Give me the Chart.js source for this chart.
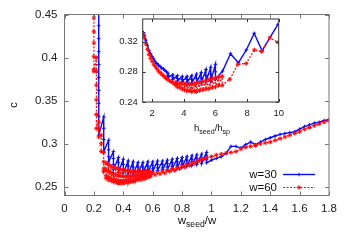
<!DOCTYPE html>
<html><head><meta charset="utf-8">
<script src="https://cdn.jsdelivr.net/npm/chart.js@4.4.1/dist/chart.umd.min.js"></script>
<style>
html,body{margin:0;padding:0;background:#fff;}
#wrap{position:relative;width:350px;height:245px;overflow:hidden;}
canvas{position:absolute;}
</style>
</head><body>
<div id="wrap">
<canvas id="main" width="350" height="245" style="left:0;top:0;width:350px;height:245px"></canvas>
<canvas id="inset" width="190" height="140" style="left:100px;top:0;width:190px;height:140px"></canvas>
</div>
<script>
// ---------- tick labels ----------
const mainXTicks = [0, 0.2, 0.4, 0.6, 0.8, 1, 1.2, 1.4, 1.6, 1.8];
const mainXLabels = ['0','0.2','0.4','0.6','0.8','1','1.2','1.4','1.6','1.8'];
const mainYTicks = [0.25, 0.3, 0.35, 0.4, 0.45];
const mainYLabels = ['0.25','0.3','0.35','0.4','0.45'];
const insetXTicks = [2, 4, 6, 8, 10];
const insetXLabels = ['2','4','6','8','10'];
const insetYTicks = [0.24, 0.28, 0.32];
const insetYLabels = ['0.24','0.28','0.32'];
const seriesNames = ['w=30', 'w=60'];

// ---------- main plot: c vs wseed/w ----------
const w30X = [
0.233,0.233,0.233,0.233,0.233,0.233,0.233,0.233,0.233,0.233,0.233,0.233,
0.267,0.267,0.267,0.267, 0.300,0.300,0.300,0.300, 0.333,0.333,0.333,0.333,
0.367,0.367,0.367,0.367, 0.400,0.400,0.400,0.400, 0.433,0.433,0.433,0.433,
0.467,0.467,0.467,0.467, 0.500,0.500,0.500,0.500, 0.533,0.533,0.533,0.533,
0.567,0.567,0.567,0.567, 0.600,0.600,0.600,0.600, 0.633,0.633,0.633,0.633,
0.667,0.667,0.667,0.667, 0.700,0.700,0.700,0.700, 0.733,0.733,0.733,0.733,
0.767,0.767,0.767,0.767, 0.800,0.800,0.800,0.800, 0.833,0.833,0.833,0.833,
0.867,0.867,0.867,0.867, 0.900,0.900,0.900,0.900, 0.933,0.933,0.933,0.933,
0.967,0.967,0.967,0.967,
1.000,1.033,1.067,1.100,1.133,1.167,1.200,1.233,1.267,1.300,1.333,1.367,1.400,
1.433,1.467,1.500,1.533,1.567,1.600,1.633,1.667,1.700,1.733,1.767,1.800];
const w30C = [
0.470,0.452,0.437,0.422,0.407,0.392,0.377,0.362,0.347,0.332,0.318,0.310,
0.331,0.318,0.305,0.291, 0.304,0.293,0.285,0.279, 0.291,0.283,0.276,0.270,
0.284,0.278,0.272,0.267, 0.282,0.276,0.270,0.266, 0.280,0.274,0.269,0.265,
0.279,0.273,0.268,0.265, 0.278,0.273,0.268,0.266, 0.278,0.273,0.269,0.266,
0.279,0.274,0.270,0.267, 0.279,0.275,0.271,0.268, 0.280,0.276,0.272,0.269,
0.280,0.276,0.272,0.270, 0.281,0.277,0.273,0.270, 0.282,0.278,0.274,0.271,
0.283,0.279,0.275,0.272, 0.284,0.280,0.276,0.273, 0.285,0.281,0.277,0.274,
0.286,0.282,0.278,0.275, 0.287,0.283,0.279,0.276, 0.288,0.284,0.280,0.277,
0.290,0.286,0.282,0.278,
0.281,0.283,0.285,0.289,0.297,0.297,0.295,0.299,0.302,0.299,0.302,0.305,0.307,
0.309,0.311,0.312,0.313,0.314,0.317,0.320,0.322,0.324,0.325,0.327,0.328];

const w60X = [
0.200,0.200,0.200,0.200,0.200,0.200,0.200,
0.217,0.217,0.217,0.217,0.217,0.217,
0.233,0.233,0.233, 0.250,0.250,0.250,
0.267,0.267,0.267,0.267, 0.283,0.283,0.283,0.283, 0.300,0.300,0.300,0.300,
0.317,0.317,0.317,0.317, 0.333,0.333,0.333,0.333, 0.350,0.350,0.350,0.350,
0.367,0.367,0.367,0.367, 0.383,0.383,0.383,0.383, 0.400,0.400,0.400,0.400,
0.417,0.417,0.417,0.417, 0.433,0.433,0.433,0.433, 0.450,0.450,0.450,0.450,
0.467,0.467,0.467,0.467, 0.483,0.483,0.483,0.483, 0.500,0.500,0.500,0.500,
0.517,0.517,0.517,0.517, 0.533,0.533,0.533,0.533, 0.550,0.550,0.550,0.550,
0.567,0.567,0.567,0.567, 0.583,0.583,0.583,0.583,
0.600,0.617,0.633,0.650,0.667,0.683,0.700,0.717,0.733,0.750,0.767,0.783,0.800,
0.817,0.833,0.850,0.867,0.883,0.900,0.917,0.933,0.950,0.967,1.000,1.033,1.067,
1.100,1.133,1.167,1.200,1.233,1.267,1.300,1.333,1.367,1.400,1.433,1.467,1.500,
1.533,1.567,1.600,1.633,1.667,1.700,1.733,1.767,1.800];
const w60C = [
0.470,0.446,0.430,0.417,0.401,0.386,0.384,
0.400,0.384,0.368,0.351,0.334,0.318,
0.325,0.316,0.308, 0.310,0.300,0.291,
0.290,0.279,0.271,0.268, 0.278,0.270,0.263,0.260, 0.276,0.268,0.261,0.258,
0.274,0.266,0.260,0.257, 0.273,0.265,0.259,0.256, 0.272,0.264,0.258,0.255,
0.271,0.263,0.257,0.254, 0.270,0.263,0.257,0.254, 0.270,0.262,0.257,0.254,
0.269,0.262,0.257,0.255, 0.269,0.262,0.258,0.255, 0.268,0.262,0.258,0.256,
0.268,0.262,0.258,0.256, 0.268,0.263,0.259,0.257, 0.268,0.263,0.260,0.258,
0.268,0.264,0.261,0.259, 0.268,0.264,0.261,0.259, 0.268,0.265,0.262,0.260,
0.268,0.265,0.262,0.261, 0.268,0.266,0.263,0.262,
0.266,0.264,0.267,0.265,0.268,0.266,0.269,0.268,0.271,0.269,0.272,0.271,0.274,
0.273,0.276,0.275,0.278,0.277,0.280,0.280,0.283,0.282,0.284,0.285,0.287,0.288,
0.289,0.290,0.291,0.294,0.296,0.297,0.298,0.300,0.301,0.302,0.304,0.306,0.308,
0.310,0.312,0.314,0.317,0.319,0.321,0.323,0.325,0.327];

// ---------- inset: c vs hseed/hsp ----------
const inW30X = [1.45,1.5,1.6,1.7,1.8,1.9,2.0,2.1,2.2,2.3,2.4,2.5,2.6,2.7,2.8,2.9,
3.0,3.0,3.0, 3.3,3.3,3.3, 3.6,3.6,3.6, 3.9,3.9,3.9, 4.2,4.2,4.2, 4.5,4.5,4.5,
4.8,4.8,4.8, 5.1,5.1,5.1, 5.4,5.4,5.4, 5.7,5.7,5.7, 6.0,6.0,6.0,
6.45,6.95,7.45,7.95,8.45,8.95,9.95];
const inW30C = [0.332,0.328,0.322,0.315,0.308,0.304,0.300,0.297,0.293,0.291,0.289,0.287,0.285,0.284,0.282,0.280,
0.278,0.275,0.273, 0.276,0.273,0.270, 0.275,0.271,0.268, 0.274,0.270,0.267, 0.274,0.270,0.266, 0.275,0.270,0.265,
0.277,0.271,0.265, 0.279,0.272,0.266, 0.283,0.275,0.267, 0.286,0.277,0.268, 0.290,0.280,0.270,
0.281,0.304,0.292,0.309,0.331,0.308,0.343];

const inW60X = [1.45,1.5,1.6,1.7,1.8,1.9,2.0,2.1,2.2,2.3,2.4,2.5,2.6,2.7,2.8,2.9,3.0,3.1,3.2,3.3,
3.4,3.5,3.5,3.6,3.6,3.75,3.75,3.9,3.9,4.05,4.05,4.2,4.2,4.35,4.35,4.5,4.5,4.65,4.65,4.8,4.8,
5.0,5.0,5.2,5.2,5.4,5.4,5.6,5.6,5.8,5.8,6.0,6.0,6.2,6.2,6.42,6.42,
6.9,7.42,7.94,8.46,8.92,9.44,9.96];
const inW60C = [0.330,0.325,0.317,0.310,0.303,0.298,0.294,0.290,0.287,0.284,0.281,0.279,0.277,0.275,0.273,0.271,0.270,0.268,0.267,0.266,
0.264,0.266,0.262,0.264,0.260,0.265,0.259,0.264,0.257,0.264,0.256,0.263,0.255,0.264,0.255,0.263,0.254,0.264,0.254,0.265,0.254,
0.266,0.255,0.267,0.256,0.268,0.257,0.270,0.258,0.271,0.259,0.272,0.260,0.273,0.262,0.274,0.262,
0.270,0.290,0.291,0.309,0.307,0.325,0.319];

// ---------- styling ----------
const FONT = '"Liberation Sans", Arial, Helvetica, sans-serif';
const BLUE = '#0a0aff';
const RED = '#ff0a0a';
const pts = (xs, cs) => xs.map((x, i) => ({x: x, y: cs[i]}));

function blueSet(data){
  return {label: seriesNames[0], data, showLine: true, borderColor: BLUE, backgroundColor: BLUE,
    borderWidth: 1.4, pointStyle: 'cross', pointRadius: 1.8, pointBorderWidth: 1, clip: 0, order: 2};
}
function redSet(data){
  return {label: seriesNames[1], data, showLine: true, borderColor: RED, backgroundColor: RED,
    borderWidth: 1.2, borderDash: [2, 1.5], pointStyle: 'star', pointRadius: 2.2, pointBorderWidth: 1, clip: 0, order: 1};
}

const framePlugin = {
  id: 'frame',
  afterDatasetsDraw(chart, args, o){
    const {ctx, chartArea: a, scales: {x, y}} = chart;
    ctx.save();
    ctx.strokeStyle = o.color; ctx.lineWidth = o.width;
    ctx.beginPath();
    x.ticks.forEach(t => {
      const p = Math.round(x.getPixelForValue(t.value)) + 0.5;
      ctx.moveTo(p, a.bottom); ctx.lineTo(p, a.bottom - o.len);
      ctx.moveTo(p, a.top); ctx.lineTo(p, a.top + o.len);
    });
    y.ticks.forEach(t => {
      const p = Math.round(y.getPixelForValue(t.value)) + 0.5;
      ctx.moveTo(a.left, p); ctx.lineTo(a.left + o.len, p);
      ctx.moveTo(a.right, p); ctx.lineTo(a.right - o.len, p);
    });
    ctx.stroke();
    ctx.strokeRect(a.left, a.top, a.right - a.left, a.bottom - a.top);
    ctx.restore();
  }
};

function drawSubText(ctx, parts, cx, baseY, size, color){
  ctx.save();
  ctx.fillStyle = color; ctx.textBaseline = 'alphabetic'; ctx.textAlign = 'left';
  let total = 0;
  parts.forEach(p => { ctx.font = (p[1] ? size * 0.75 : size) + 'px ' + FONT; total += ctx.measureText(p[0]).width; });
  let x = cx - total / 2;
  parts.forEach(p => {
    const s = p[1] ? size * 0.75 : size;
    ctx.font = s + 'px ' + FONT;
    ctx.fillText(p[0], x, baseY + (p[1] ? size * 0.3 : 0));
    x += ctx.measureText(p[0]).width;
  });
  ctx.restore();
}

const mainExtras = {
  id: 'mainExtras',
  afterDraw(chart){
    const ctx = chart.ctx;
    // y title
    ctx.save();
    ctx.fillStyle = '#111'; ctx.font = '11.5px ' + FONT;
    ctx.translate(14, 105); ctx.rotate(-Math.PI / 2);
    ctx.textAlign = 'center'; ctx.textBaseline = 'middle';
    ctx.fillText('c', 0, 0);
    ctx.restore();
    // x title
    drawSubText(ctx, [['w', false], ['seed', true], ['/w', false]], 197, 224, 11.5, '#111');
    // legend
    const rows = [[seriesNames[0], 174, BLUE, [], 'cross', 1.8, 1.4], [seriesNames[1], 187, RED, [2, 1.5], 'star', 2.2, 1.2]];
    rows.forEach(r => {
      ctx.save();
      ctx.fillStyle = '#111'; ctx.font = '11.5px ' + FONT;
      ctx.textAlign = 'right'; ctx.textBaseline = 'middle';
      ctx.fillText(r[0], 277, r[1] + 0.5);
      ctx.strokeStyle = r[2]; ctx.lineWidth = r[6]; ctx.setLineDash(r[3]);
      ctx.beginPath(); ctx.moveTo(283, r[1] + 0.5); ctx.lineTo(315, r[1] + 0.5); ctx.stroke();
      ctx.setLineDash([]); ctx.lineWidth = 1;
      Chart.helpers.drawPoint(ctx, {pointStyle: r[4], radius: r[5], borderWidth: 1}, 299, r[1] + 0.5);
      ctx.restore();
    });
  }
};

const insetExtras = {
  id: 'insetExtras',
  afterDraw(chart){
    drawSubText(chart.ctx, [['h', false], ['seed', true], ['/h', false], ['sp', true]], 112, 131, 9.5, '#111');
  }
};

function fixedTicks(values){ return s => { s.ticks = values.map(v => ({value: v})); }; }

new Chart(document.getElementById('main'), {
  type: 'scatter',
  data: {datasets: [blueSet(pts(w30X, w30C)), redSet(pts(w60X, w60C))]},
  options: {
    responsive: false, animation: false, devicePixelRatio: 1,
    layout: {padding: {left: 0, right: 21, top: 14.5, bottom: 0}},
    plugins: {legend: {display: false}, tooltip: {enabled: false}, frame: {color: '#777', width: 1, len: 4}},
    scales: {
      x: {type: 'linear', min: 0, max: 1.8, afterBuildTicks: fixedTicks(mainXTicks),
        afterFit: s => { s.height = 49.5; },
        grid: {display: false, drawTicks: false}, border: {display: false},
        ticks: {padding: 6, autoSkip: false, maxRotation: 0, color: '#222', font: {family: FONT, size: 11.5},
          callback: (v, i) => mainXLabels[i]}},
      y: {type: 'linear', min: 0.24, max: 0.45, afterBuildTicks: fixedTicks(mainYTicks),
        afterFit: s => { s.width = 64.5; },
        grid: {display: false, drawTicks: false}, border: {display: false},
        ticks: {padding: 7, autoSkip: false, color: '#222', font: {family: FONT, size: 11.5},
          callback: (v, i) => mainYLabels[i]}}
    }
  },
  plugins: [framePlugin, mainExtras]
});

new Chart(document.getElementById('inset'), {
  type: 'scatter',
  data: {datasets: [blueSet(pts(inW30X, inW30C)), redSet(pts(inW60X, inW60C))]},
  options: {
    responsive: false, animation: false, devicePixelRatio: 1,
    layout: {padding: {left: 0, right: 9.3, top: 19, bottom: 0}},
    plugins: {legend: {display: false}, tooltip: {enabled: false}, frame: {color: '#333', width: 1, len: 3}},
    scales: {
      x: {type: 'linear', min: 1.4, max: 10, afterBuildTicks: fixedTicks(insetXTicks),
        afterFit: s => { s.height = 38; },
        grid: {display: false, drawTicks: false}, border: {display: false},
        ticks: {padding: 6, autoSkip: false, maxRotation: 0, color: '#222', font: {family: FONT, size: 9.5},
          callback: (v, i) => insetXLabels[i]}},
      y: {type: 'linear', min: 0.24, max: 0.35, afterBuildTicks: fixedTicks(insetYTicks),
        afterFit: s => { s.width = 42.7; },
        grid: {display: false, drawTicks: false}, border: {display: false},
        ticks: {padding: 5, autoSkip: false, color: '#222', font: {family: FONT, size: 9.5},
          callback: (v, i) => insetYLabels[i]}}
    }
  },
  plugins: [framePlugin, insetExtras]
});
</script>
</body></html>
